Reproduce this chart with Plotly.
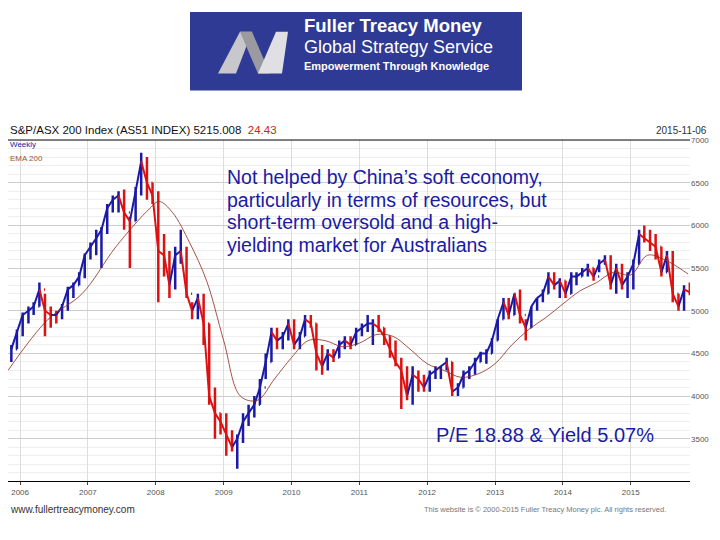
import pandas as pd
import plotly.graph_objects as go

# monthly bars, Nov 2005 .. Nov 2015
months = pd.date_range("2005-11-01", "2015-11-01", freq="MS") + pd.Timedelta(days=14)

close = [4550, 4750,
         4950, 5000, 5050, 5250, 5000, 4950, 4950, 5050, 5250, 5300, 5400, 5650,
         5750, 5850, 5950, 6200, 6300, 6350, 6150, 6050, 6400, 6750, 6500, 6350,
         5700, 5650, 5300, 5650, 5700, 5200, 5000, 5150, 4850, 4000, 3800, 3700,
         3550, 3400, 3500, 3700, 3800, 3900, 4100, 4400, 4750, 4650, 4700, 4850,
         4600, 4700, 4900, 4850, 4500, 4350, 4500, 4450, 4600, 4650, 4600, 4750,
         4800, 4850, 4850, 4800, 4700, 4550, 4400, 4300, 4000, 4250, 4200, 4100,
         4250, 4300, 4350, 4400, 4050, 4100, 4250, 4300, 4400, 4500, 4500, 4650,
         4900, 5100, 4950, 5200, 4950, 4800, 5050, 5150, 5200, 5400, 5300, 5350,
         5200, 5400, 5400, 5450, 5500, 5400, 5550, 5600, 5300, 5500, 5300, 5400,
         5550, 5900, 5850, 5800, 5750, 5450, 5650, 5200, 5050, 5250, 5215]
high = [4600, 4780,
        4980, 5050, 5100, 5330, 5200, 5050, 5000, 5080, 5280, 5330, 5450, 5670,
        5800, 5950, 5980, 6250, 6350, 6400, 6420, 6100, 6450, 6850, 6800, 6500,
        6400, 5900, 5700, 5750, 5950, 5750, 5100, 5200, 5200, 4850, 4100, 3800,
        3800, 3600, 3550, 3800, 3900, 4000, 4200, 4500, 4800, 4800, 4750, 4900,
        4900, 4750, 4950, 4950, 4850, 4600, 4550, 4550, 4650, 4700, 4700, 4800,
        4850, 4950, 4900, 4950, 4800, 4700, 4650, 4450, 4350, 4350, 4300, 4250,
        4300, 4350, 4350, 4450, 4400, 4150, 4300, 4350, 4450, 4520, 4550, 4680,
        4900, 5150, 5150, 5200, 5250, 4900, 5050, 5150, 5250, 5450, 5450, 5380,
        5350, 5450, 5450, 5500, 5550, 5500, 5600, 5650, 5650, 5550, 5550, 5450,
        5600, 5950, 6000, 5950, 5900, 5750, 5700, 5700, 5200, 5300, 5330]
low = [4400, 4550,
       4700, 4850, 4950, 5050, 4700, 4800, 4850, 4900, 5000, 5150, 5300, 5380,
       5600, 5650, 5500, 5900, 6150, 6150, 5950, 5500, 6050, 6350, 6300, 6250,
       5100, 5400, 5150, 5250, 5550, 5150, 4900, 4900, 4600, 3900, 3500, 3550,
       3300, 3350, 3150, 3450, 3650, 3750, 3900, 4200, 4400, 4550, 4550, 4650,
       4550, 4550, 4700, 4800, 4300, 4250, 4300, 4400, 4450, 4550, 4550, 4600,
       4700, 4750, 4600, 4750, 4600, 4450, 4350, 3850, 3950, 3900, 4050, 4050,
       4050, 4200, 4200, 4300, 4000, 4000, 4100, 4200, 4250, 4400, 4380, 4500,
       4650, 4900, 4900, 4950, 4850, 4650, 4800, 5000, 5100, 5200, 5250, 5150,
       5150, 5200, 5300, 5400, 5400, 5350, 5450, 5550, 5250, 5200, 5250, 5150,
       5250, 5550, 5800, 5700, 5600, 5400, 5450, 5100, 5000, 5000, 5180]
open_ = [4450] + close[:-1]

ema_dates = ["2005-10-28", "2006-06-01", "2006-12-01", "2007-06-01", "2007-12-01", "2008-01-20",
             "2008-04-01", "2008-07-01", "2008-10-01", "2009-01-01", "2009-04-01", "2009-07-01",
             "2009-10-01", "2010-01-01", "2010-04-01", "2010-07-01", "2010-10-01", "2011-01-01",
             "2011-04-01", "2011-07-01", "2011-10-01", "2012-01-01", "2012-04-01", "2012-07-01",
             "2012-10-01", "2013-01-01", "2013-04-01", "2013-07-01", "2013-10-01", "2014-01-01",
             "2014-04-01", "2014-07-01", "2014-10-01", "2015-01-01", "2015-04-01", "2015-07-01",
             "2015-11-06"]
ema = [4300, 4900, 5200, 5750, 6200, 6280,
       6150, 5800, 5350, 4650, 4000, 3950,
       4200, 4450, 4650, 4650, 4580, 4620,
       4720, 4700, 4550, 4380, 4300, 4220,
       4260, 4380, 4600, 4780, 4920, 5080,
       5230, 5330, 5450, 5420, 5650, 5600,
       5430]

y_ticks = [3500, 4000, 4500, 5000, 5500, 6000, 6500, 7000]
BLUE = "#1a1aa6"
RED = "#dd1111"

# the page has an 8px body margin, so lay out in a 712x532 box offset by 8px
W, H, OFF = 712, 532, 8


def px(x):
    return max(0, (x - OFF) / W)


def py(y):
    return min(1, 1 - (y - OFF) / H)


fig = go.Figure()

# connecting close-to-close segments, coloured by direction
for color, up in [(BLUE, True), (RED, False)]:
    xs, ys = [], []
    for i in range(1, len(close)):
        if (close[i] >= close[i - 1]) == up:
            xs += [months[i - 1], months[i], None]
            ys += [close[i - 1], close[i], None]
    fig.add_trace(go.Scatter(x=xs, y=ys, mode="lines", line=dict(color=color, width=2),
                             showlegend=False, hoverinfo="skip"))

fig.add_trace(go.Ohlc(
    x=months, open=open_, high=high, low=low, close=close,
    increasing=dict(line=dict(color=BLUE, width=2.5)),
    decreasing=dict(line=dict(color=RED, width=2.5)),
    tickwidth=0.2, showlegend=False,
))
fig.add_trace(go.Scatter(
    x=ema_dates, y=ema, mode="lines", line=dict(color="#8b2a1a", width=0.8, shape="spline"),
    showlegend=False, hoverinfo="skip",
))

fig.update_layout(
    width=W, height=H, paper_bgcolor="white", plot_bgcolor="white",
    margin=dict(l=0, r=0, t=0, b=0),
    font=dict(family="Arial, Liberation Sans", color="#222"),
    xaxis=dict(domain=[px(5), px(690)], type="date",
               range=["2005-10-28", "2015-11-16"], rangeslider=dict(visible=False),
               showgrid=True, gridcolor="#dddddd", gridwidth=1,
               dtick="M12", tick0="2006-01-01", tickformat="%Y",
               tickfont=dict(size=8, color="#555"), showline=True, linecolor="#000",
               ticks="outside", ticklen=3),
    yaxis=dict(domain=[py(481), py(137)], range=[3000, 7000], side="right",
               tickvals=y_ticks, ticktext=[str(v) for v in y_ticks],
               tickfont=dict(size=8, color="#555"), showgrid=True, gridcolor="#cccccc",
               minor=dict(dtick=100, showgrid=True, gridcolor="#eeeeee"),
               zeroline=False, showline=False),
    shapes=[
        dict(type="rect", xref="paper", yref="paper", x0=px(190), x1=px(522),
             y0=py(87), y1=1, fillcolor="#2e3a93", line=dict(width=0), layer="below"),
        dict(type="path", xref="paper", yref="paper",
             path=f"M {px(218)},{py(70)} L {px(240)},{py(28)} L {px(252)},{py(28)} L {px(236)},{py(70)} Z",
             fillcolor="#c8c8cc", line=dict(width=0)),
        dict(type="path", xref="paper", yref="paper",
             path=f"M {px(240)},{py(28)} L {px(252)},{py(28)} L {px(270)},{py(70)} L {px(258)},{py(70)} Z",
             fillcolor="#9a9aa0", line=dict(width=0)),
        dict(type="path", xref="paper", yref="paper",
             path=f"M {px(258)},{py(70)} L {px(276)},{py(28)} L {px(288)},{py(28)} L {px(282)},{py(70)} Z",
             fillcolor="#e0e0e4", line=dict(width=0)),
        dict(type="line", xref="paper", yref="paper", x0=0, x1=px(690),
             y0=py(137), y1=py(137), line=dict(color="#000", width=1)),
    ],
)

ann = [
    dict(x=302, y=22, text="<b>Fuller Treacy Money</b>", size=18.5, color="white"),
    dict(x=302, y=43, text="Global Strategy Service", size=18, color="white"),
    dict(x=302, y=62, text="<b>Empowerment Through Knowledge</b>", size=11, color="white"),
    dict(x=8, y=127, text="S&P/ASX 200 Index (AS51 INDEX) 5215.008  <span style='color:#cc2222'>24.43</span>",
         size=11.5, color="#111"),
    dict(x=654, y=127, text="2015-11-06", size=10, color="#333"),
    dict(x=8, y=142, text="Weekly", size=8, color=BLUE),
    dict(x=8, y=156, text="EMA 200", size=8, color="#a0522d"),
    dict(x=225, y=174, text="Not helped by China’s soft economy,", size=19.5, color=BLUE),
    dict(x=225, y=197, text="particularly in terms of resources, but", size=19.5, color=BLUE),
    dict(x=225, y=220, text="short-term oversold and a high-", size=19.5, color=BLUE),
    dict(x=225, y=243, text="yielding market for Australians", size=19.5, color=BLUE),
    dict(x=434, y=434, text="P/E 18.88 & Yield 5.07%", size=20, color=BLUE),
    dict(x=8, y=509, text="www.fullertreacymoney.com", size=10, color="#333"),
    dict(x=422, y=509, text="This website is © 2000-2015 Fuller Treacy Money plc. All rights reserved.",
         size=7.5, color="#777"),
]
for a in ann:
    fig.add_annotation(x=px(a["x"]), y=py(a["y"]), xref="paper", yref="paper",
                       text=a["text"], showarrow=False, xanchor="left", yanchor="middle",
                       align="left", font=dict(size=a["size"], color=a["color"]))

fig.write_html("out.html")
